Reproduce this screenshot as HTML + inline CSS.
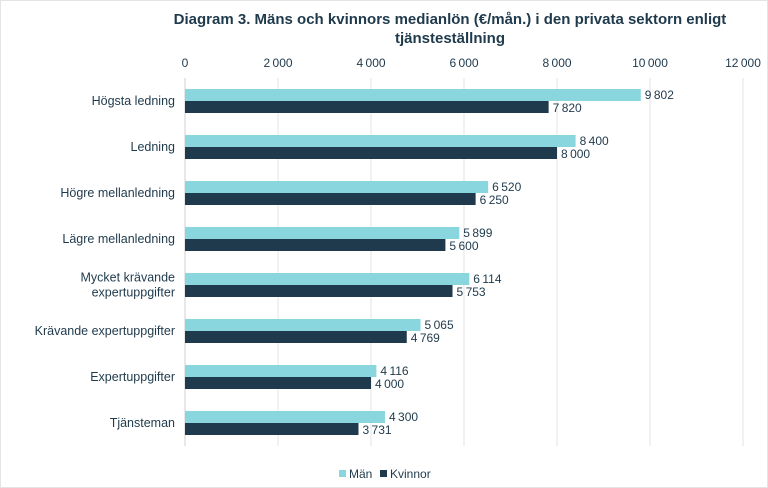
<!DOCTYPE html>
<html><head><meta charset="utf-8"><style>
body{margin:0;background:#fff;}
svg{display:block;font-family:"Liberation Sans",sans-serif;}
</style></head><body>
<svg id="chart" width="768" height="488">
<rect x="0.5" y="0.5" width="767" height="487" fill="#fff" stroke="#e4e4e4"/>
<text x="450" y="24" text-anchor="middle" font-size="15" font-weight="bold" fill="#1f3a4c">Diagram 3. Mäns och kvinnors medianlön (€/mån.) i den privata sektorn enligt</text>
<text x="450" y="43" text-anchor="middle" font-size="15" font-weight="bold" fill="#1f3a4c">tjänsteställning</text>
<g id="grid"></g><g id="bars"></g><g id="labels"></g>
<g>
<rect x="339" y="470" width="7" height="7" fill="#89d6df"/>
<text x="349" y="478" font-size="12" fill="#1f3a4c">Män</text>
<rect x="380" y="470" width="7" height="7" fill="#1f3a4c"/>
<text x="390" y="478" font-size="12" fill="#1f3a4c">Kvinnor</text>
</g>
</svg>
<script>
const categories=[["Högsta ledning"],["Ledning"],["Högre mellanledning"],["Lägre mellanledning"],["Mycket krävande","expertuppgifter"],["Krävande expertuppgifter"],["Expertuppgifter"],["Tjänsteman"]];
const menValues=[9802,8400,6520,5899,6114,5065,4116,4300];
const womenValues=[7820,8000,6250,5600,5753,4769,4000,3731];
const ticks=[0,2000,4000,6000,8000,10000,12000];
const NS="http://www.w3.org/2000/svg";
const x0=185,x1=743,maxV=12000,top0=78,rowH=46;
const xs=v=>x0+v/maxV*(x1-x0);
const rowY=i=>top0+i*rowH+23;
const fmt=v=>String(v).replace(/\B(?=(\d{3})+(?!\d))/g,"\u2009");
function mk(tag,attrs,parent,txt){const e=document.createElementNS(NS,tag);for(const k in attrs)e.setAttribute(k,attrs[k]);if(txt!=null)e.textContent=txt;parent.appendChild(e);return e;}
const grid=document.getElementById('grid'),bars=document.getElementById('bars'),labels=document.getElementById('labels');
ticks.forEach(t=>{
 const l=mk('line',{x1:xs(t),x2:xs(t),y1:top0,y2:top0+rowH*categories.length,stroke:t===0?'#d0d0d0':'#e3e3e3','stroke-width':1},grid);
 
 
 const tx=mk('text',{x:xs(t),y:67,'text-anchor':'middle','font-size':12,fill:'#1f3a4c'},grid,fmt(t));
 
 
});
categories.forEach((c,i)=>{
 const cy=rowY(i);
 const lines=c;
 lines.forEach((s,j)=>{
  const t=mk('text',{x:175,y:cy+4+(j-(lines.length-1)/2)*15,'text-anchor':'end','font-size':12.5,fill:'#1f3a4c'},labels,s);
  
  
 });
 const bm=mk('rect',{x:x0,y:cy-12,width:xs(menValues[i])-x0,height:12,fill:'#89d6df'},bars);
 
 
 const bw=mk('rect',{x:x0,y:cy,width:xs(womenValues[i])-x0,height:12,fill:'#1f3a4c'},bars);
 
 
 const lm=mk('text',{x:xs(menValues[i])+4,y:cy-2,'font-size':12,fill:'#1f3a4c'},labels,fmt(menValues[i]));
 
 
 const lw=mk('text',{x:xs(womenValues[i])+4,y:cy+11,'font-size':12,fill:'#1f3a4c'},labels,fmt(womenValues[i]));
 
 
});
</script>
</body></html>
